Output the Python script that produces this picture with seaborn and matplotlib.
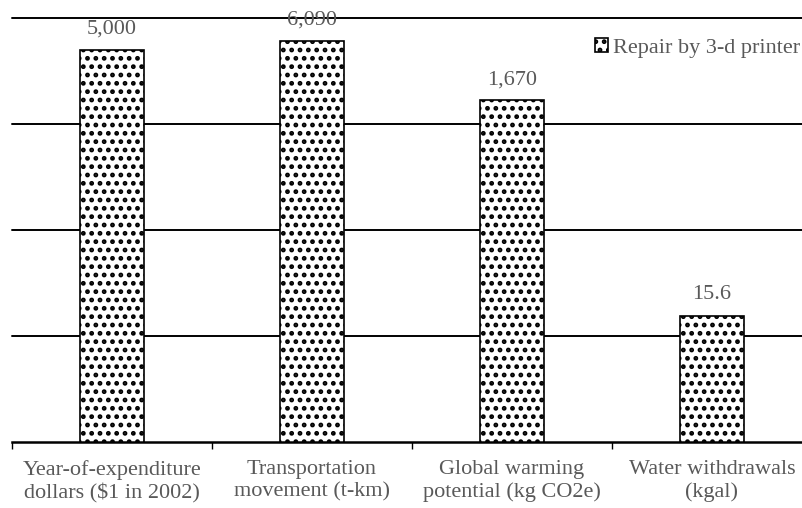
import pandas as pd
import seaborn as sns
import matplotlib.pyplot as plt
from matplotlib.ticker import FixedLocator, NullFormatter

# --- data ---
categories = [
    "Year-of-expenditure\ndollars ($1 in 2002)",
    "Transportation\nmovement (t-km)",
    "Global warming\npotential (kg CO2e)",
    "Water withdrawals\n(kgal)",
]
values = [5000, 6090, 1670, 15.6]
value_labels = ["5,000", "6,090", "1,670", "15.6"]
series_name = "Repair by 3-d printer"

df = pd.DataFrame({"Impact": categories, "Value": values, "Scenario": series_name})

# --- style ---
sns.set_style("white")
plt.rcParams["font.family"] = ["Liberation Serif", "DejaVu Serif"]
plt.rcParams["hatch.linewidth"] = 2.2
text_gray = "#595959"

fig = plt.figure(figsize=(8.02, 5.08), dpi=100)
ax = fig.add_axes([12 / 802, 66 / 508, 800 / 802, 424 / 508])

sns.barplot(data=df, x="Impact", y="Value", hue="Scenario", order=categories,
            palette=["white"], edgecolor="black", linewidth=1.2, width=0.32,
            hatch="..", ax=ax)
ax.set_yscale("log")
ax.set_ylim(1, 10000)
ax.set_xlim(-0.5, 3.5)

# gridlines at decades, no y labels
ax.yaxis.set_major_locator(FixedLocator([10, 100, 1000, 10000]))
ax.yaxis.set_minor_locator(FixedLocator([]))
ax.yaxis.set_major_formatter(NullFormatter())
ax.tick_params(axis="y", length=0)
ax.yaxis.grid(True, color="black", linewidth=1.4)
ax.set_axisbelow(True)
for gl in ax.get_ygridlines():
    gl.set_clip_on(False)

# x ticks: labels at centers, small tick marks at boundaries
ax.set_xticks(range(len(categories)))
ax.set_xticklabels(categories, fontsize=16, color=text_gray, linespacing=1.25)
ax.set_xticks([-0.5, 0.5, 1.5, 2.5, 3.5], minor=True)
ax.tick_params(axis="x", which="major", bottom=True, length=0, pad=13)
ax.tick_params(axis="x", which="minor", bottom=True, length=5, width=1,
               color="black", direction="out")
ax.set_xlabel("")
ax.set_ylabel("")

for side in ["top", "right", "left"]:
    ax.spines[side].set_visible(False)
ax.spines["bottom"].set_color("black")
ax.spines["bottom"].set_linewidth(1.8)

# value labels
ax.bar_label(ax.containers[0], labels=value_labels, padding=8, fontsize=16, color=text_gray)

# legend
leg = ax.legend(loc="center right", bbox_to_anchor=(1.0, 0.905), bbox_transform=fig.transFigure,
                frameon=False, fontsize=16, handlelength=0.6, handleheight=0.6,
                handletextpad=0.2, borderaxespad=0, borderpad=0.1)
for t in leg.get_texts():
    t.set_color(text_gray)

fig.savefig("out.png", dpi=100)
